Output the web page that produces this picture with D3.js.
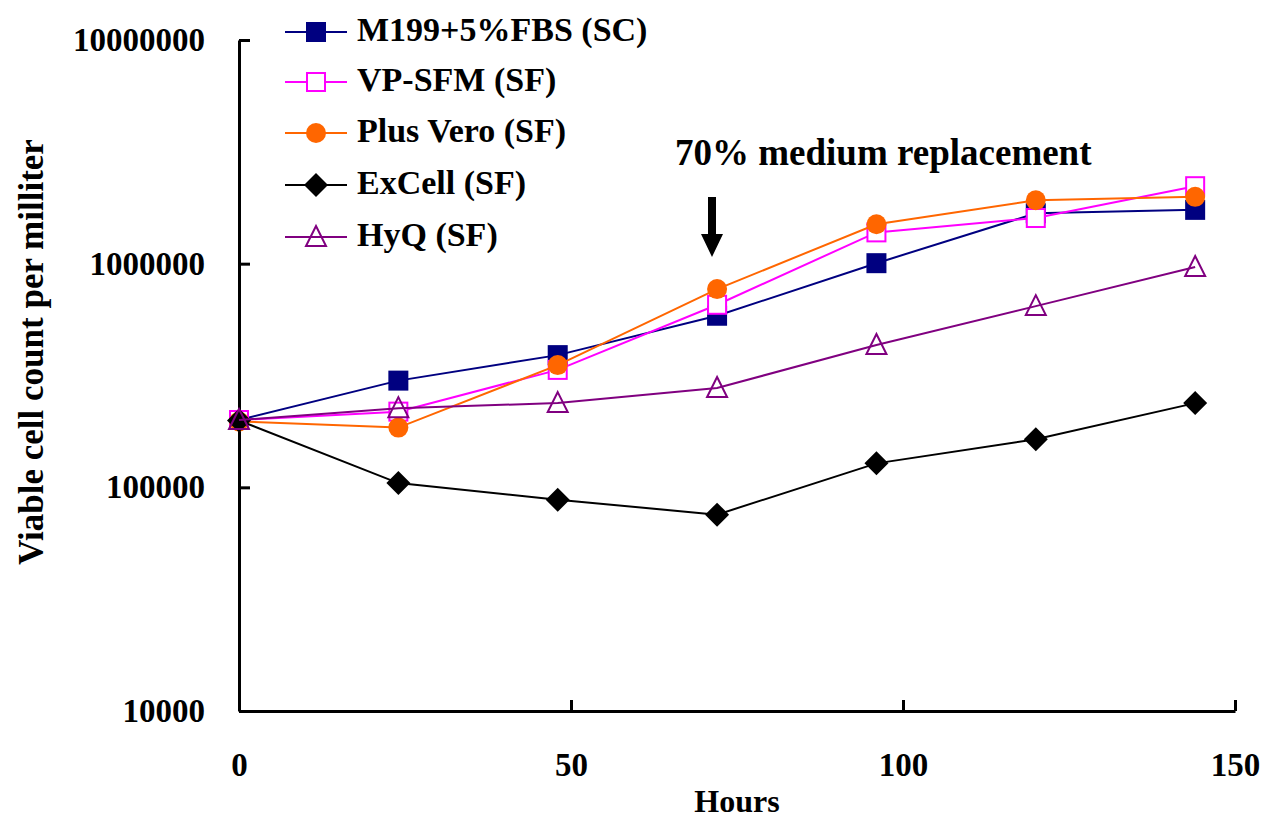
<!DOCTYPE html>
<html>
<head>
  <script src="https://d3js.org/d3.v7.min.js"></script>
  <style>
    body { margin: 0; background: white; }
    svg text { font-family: 'Liberation Serif', 'Times New Roman', serif; font-weight: bold; fill: black; }
  </style>
</head>
<body>
  <svg id="chart" width="1268" height="822"></svg>
  <script>
    // data
    const hours = [0, 24, 48, 72, 96, 120, 144];
    const m199 = [200000, 300000, 390000, 585000, 1005000, 1680000, 1740000];
    const vpsfm = [200000, 218000, 335000, 655000, 1380000, 1600000, 2220000];
    const plusVero = [197000, 185000, 352000, 770000, 1500000, 1920000, 1990000];
    const exCell = [199000, 104500, 88000, 75500, 128000, 164000, 238000];
    const hyq = [200000, 226000, 238000, 278000, 433000, 646000, 966000];
    const xTicks = [0, 50, 100, 150];
    const yTicks = [10000, 100000, 1000000, 10000000];

    const series = [
      { name: 'M199+5%FBS (SC)', values: m199, color: '#000080', marker: 'square', fill: true },
      { name: 'VP-SFM (SF)', values: vpsfm, color: '#ff00ff', marker: 'square', fill: false },
      { name: 'Plus Vero (SF)', values: plusVero, color: '#ff6600', marker: 'circle', fill: true },
      { name: 'ExCell (SF)', values: exCell, color: '#000000', marker: 'diamond', fill: true },
      { name: 'HyQ (SF)', values: hyq, color: '#800080', marker: 'triangle', fill: false }
    ];

    const svg = d3.select('#chart');
    const x = d3.scaleLinear().domain([0, 150]).range([239, 1235]);
    const y = d3.scaleLog().domain([10000, 10000000]).range([711, 40]);

    // axes, ticks pointing inward
    const yAxis = svg.append('g')
      .attr('transform', 'translate(' + x(0) + ',0)')
      .call(d3.axisLeft(y).tickValues(yTicks).tickFormat(d3.format('d'))
        .tickSizeInner(-11).tickSizeOuter(0).tickPadding(34));
    const xAxis = svg.append('g')
      .attr('transform', 'translate(0,' + y(10000) + ')')
      .call(d3.axisBottom(x).tickValues(xTicks)
        .tickSizeInner(-11).tickSizeOuter(0).tickPadding(42));
    [xAxis, yAxis].forEach(function (g) {
      g.select('.domain').attr('stroke', 'black').attr('stroke-width', 3);
      g.selectAll('.tick line').attr('stroke', 'black').attr('stroke-width', 3);
      g.selectAll('.tick text').style('font-size', '33px').attr('fill', 'black');
    });

    svg.append('text')
      .attr('x', 737).attr('y', 812)
      .attr('text-anchor', 'middle')
      .style('font-size', '32px')
      .text('Hours');

    svg.append('text')
      .attr('transform', 'translate(43,352) rotate(-90)')
      .attr('text-anchor', 'middle')
      .style('font-size', '35px')
      .text('Viable cell count per milliter');

    function drawMarker(g, s, cx, cy) {
      const fill = s.fill ? s.color : 'white';
      if (s.marker === 'square') {
        g.append('rect').attr('x', cx - 9).attr('y', cy - 9).attr('width', 18).attr('height', 18)
          .attr('fill', fill).attr('stroke', s.color).attr('stroke-width', 2);
      } else if (s.marker === 'circle') {
        g.append('circle').attr('cx', cx).attr('cy', cy).attr('r', 10).attr('fill', fill);
      } else if (s.marker === 'diamond') {
        g.append('path').attr('d', 'M' + cx + ',' + (cy - 12) + 'L' + (cx + 12) + ',' + cy +
          'L' + cx + ',' + (cy + 12) + 'L' + (cx - 12) + ',' + cy + 'Z').attr('fill', fill);
      } else {
        g.append('path').attr('d', 'M' + cx + ',' + (cy - 11) + 'L' + (cx + 10) + ',' + (cy + 9) +
          'L' + (cx - 10) + ',' + (cy + 9) + 'Z')
          .attr('fill', 'none').attr('stroke', s.color).attr('stroke-width', 2);
      }
    }

    const line = d3.line().x(function (d) { return x(d[0]); }).y(function (d) { return y(d[1]); });

    series.forEach(function (s) {
      const g = svg.append('g');
      const pts = hours.map(function (h, i) { return [h, s.values[i]]; });
      g.append('path').attr('d', line(pts)).attr('fill', 'none')
        .attr('stroke', s.color).attr('stroke-width', 2);
      pts.forEach(function (p) { drawMarker(g, s, x(p[0]), y(p[1])); });
    });

    // legend
    const legendY = [32, 82, 133, 185, 237];
    series.forEach(function (s, i) {
      const g = svg.append('g');
      g.append('line').attr('x1', 285).attr('x2', 347).attr('y1', legendY[i]).attr('y2', legendY[i])
        .attr('stroke', s.color).attr('stroke-width', 2);
      drawMarker(g, s, 316, legendY[i]);
      g.append('text').attr('x', 357).attr('y', legendY[i] + 9)
        .style('font-size', '34px').text(s.name);
    });

    // annotation
    svg.append('text')
      .attr('x', 675).attr('y', 165)
      .style('font-size', '37px')
      .text('70% medium replacement');
    svg.append('path')
      .attr('d', 'M708,197L716,197L716,234L723,234L712,257L701,234L708,234Z')
      .attr('fill', 'black');
  </script>
</body>
</html>
